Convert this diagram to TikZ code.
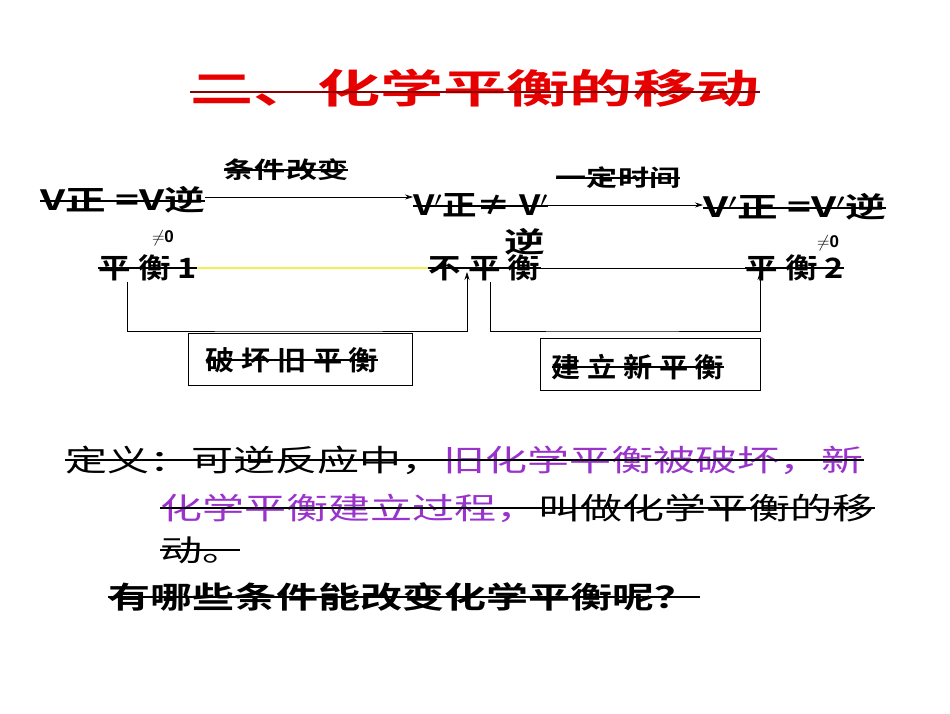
\documentclass[tikz,border=0pt]{standalone}
\usepackage{fontspec}
\usetikzlibrary{calc,arrows.meta}
\setmainfont{Liberation Sans}
\newfontfamily\cjk[BoldFont={Noto Sans CJK SC Bold}]{Noto Sans CJK SC}
\definecolor{titlered}{RGB}{230,0,0}
\definecolor{purp}{RGB}{153,51,204}
\definecolor{ylw}{RGB}{240,240,80}
\tikzset{
  big/.style={font=\cjk\bfseries\fontsize{28}{30}\selectfont, inner sep=0pt, xscale=1.45},
  lbl/.style={font=\cjk\bfseries\fontsize{23}{25}\selectfont, inner sep=0pt, xscale=1.35},
  sm/.style={font=\bfseries\fontsize{17}{18}\selectfont, inner sep=0pt},
  def/.style={font=\cjk\fontsize{30}{32}\selectfont, inner sep=0pt, anchor=west, xscale=1.4},
  strike/.style={line width=1.2pt},
  arr/.style={-{Stealth[length=8pt,width=5pt]}, line width=0.6pt},
  box/.style={draw, line width=0.6pt, minimum width=224pt, minimum height=52pt, inner sep=0pt}
}
\begin{document}
\begin{tikzpicture}[x=1pt,y=-1pt]
\useasboundingbox (0,0) rectangle (950,713);
% title
\node[font=\cjk\bfseries\fontsize{40}{42}\selectfont, text=titlered, inner sep=0pt, xscale=1.58] (title) at (475,88) {二、化学平衡的移动};
\draw[strike, line width=2pt, draw=titlered!60!black] (title.west |- 0,92) -- (title.east |- 0,92);
% row 1
\node[big, anchor=west] (e1) at (40,200) {V正 =V逆};
\node[big, anchor=west, xscale=0.85] (e2) at (413,205) {V$'$正≠ V$'$};
\node[big, anchor=west] (e3) at (703,207) {V$'$正 =V$'$逆};
\draw[arr] (e1.east |- 0,197) -- (e2.west |- 0,197);
\node[lbl] (c1) at (286,170) {条件改变};
\draw[arr] (e2.east |- 0,205) -- (e3.west |- 0,205);
\node[lbl] (c2) at (618,178) {一定时间};
\foreach \n in {e1,e2,e3}{\draw[strike] ($(\n.west)+(0,1)$) -- ($(\n.east)+(0,1)$);}
\draw[strike] (c1.west) -- (c1.east);
\draw[strike] (c2.west) -- (c2.east);
\node[sm] (z1) at (163,238) {$\neq$0};
\node[big] (ni) at (525,242) {逆};
\node[sm] (z2) at (828,243) {$\neq$0};
% row 2
\node[big, anchor=west, xscale=0.8] (p1) at (98,268) {平 衡 1};
\node[big, anchor=west, xscale=0.8] (p0) at (428,268) {不 平 衡};
\node[big, anchor=west, xscale=0.8] (p2) at (745,268) {平 衡 2};
\draw[ylw, line width=2pt] (p1.east |- 0,268) -- (p0.west |- 0,268);
\draw[line width=1pt] (p0.east |- 0,268) -- (p2.west |- 0,268);
\foreach \n in {p1,p0,p2}{\draw[strike] (\n.west) -- (\n.east);}
% brackets
\coordinate (b1) at (127,282);
\coordinate (b2) at (467,272);
\coordinate (b3) at (490,282);
\coordinate (b4) at (760,272);
\draw[arr] (b1) |- (300,331) -| (b2);
\draw[arr] (b3) |- (600,331) -| (b4);
\node[box] (k1) at (300,359) {};
\node[box, minimum width=220pt] (k2) at (650,364) {};
\node[lbl, font=\cjk\bfseries\fontsize{27}{29}\selectfont, xscale=0.8] (k1t) at (292,360) {破 坏 旧 平 衡};
\node[lbl, font=\cjk\bfseries\fontsize{27}{29}\selectfont, xscale=0.8] (k2t) at (638,367) {建 立 新 平 衡};
\draw[strike] (k1t.west) -- (k1t.east);
\draw[strike] (k2t.west) -- (k2t.east);
% definition
\node[def] (d1) at (65,460) {定义：可逆反应中，};
\node[def, text=purp] (d2) at (d1.east) {旧化学平衡被破坏，新};
\node[def, text=purp] (d3) at (160,508) {化学平衡建立过程，};
\node[def] (d4) at (d3.east) {叫做化学平衡的移};
\node[def] (d5) at (160,550) {动。};
\draw[strike] (d1.west) -- (d2.east);
\draw[strike] (d3.west) -- (d4.east);
\draw[strike] (d5.west) -- ++(80,0);
\node[def, font=\cjk\bfseries\fontsize{30}{32}\selectfont] (q) at (108,597) {有哪些条件能改变化学平衡呢？};
\draw[strike] (q.west) -- ++(592,0);
\end{tikzpicture}
\end{document}
